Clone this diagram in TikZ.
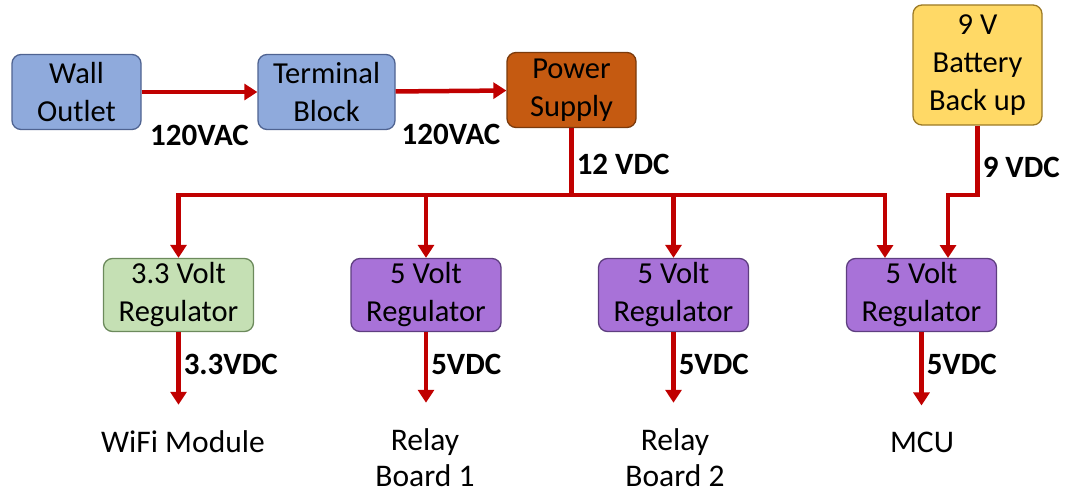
\documentclass[tikz,border=0pt]{standalone}
\usepackage{fontspec}
\setmainfont{Carlito}
\usetikzlibrary{arrows.meta}

\definecolor{boxblue}{HTML}{8FAADC}
\definecolor{edgeblue}{HTML}{4F6391}
\definecolor{supplyorange}{HTML}{C55A11}
\definecolor{edgeorange}{HTML}{7A3A0C}
\definecolor{battyellow}{HTML}{FFD966}
\definecolor{edgeyellow}{HTML}{9C7A26}
\definecolor{reggreen}{HTML}{C5E0B4}
\definecolor{edgegreen}{HTML}{6C8A5C}
\definecolor{regpurple}{HTML}{A872D8}
\definecolor{edgepurple}{HTML}{5E3E80}
\definecolor{wirered}{HTML}{C00000}

\tikzset{
    block/.style={draw, line width=1.3pt, rounded corners=9pt, align=center,
        minimum width=129pt, minimum height=75pt, inner sep=0pt,
        font=\fontsize{30.5}{38}\selectfont},
    regbox/.style={block, minimum width=150pt, minimum height=73pt},
    target/.style={align=center, inner sep=0pt, font=\fontsize{31.5}{36}\selectfont},
    volts/.style={font=\fontsize{31}{36}\selectfont\bfseries, inner sep=3pt},
    wire/.style={draw=wirered, line width=4.5pt},
    feed/.style={wire, -{Triangle[width=16pt,length=13pt]}}
}

\begin{document}
\begin{tikzpicture}[x={(1pt,0pt)}, y={(0pt,-1pt)}]
    \useasboundingbox (0,0) rectangle (1070,495);

    % Mains side
    \node[block, fill=boxblue, draw=edgeblue] (wall) at (76.5,92) {Wall\\Outlet};
    \node[block, fill=boxblue, draw=edgeblue, minimum width=137pt] (term) at (326.5,92) {Terminal\\Block};
    \node[block, fill=supplyorange, draw=edgeorange] (psu) at (571.5,90) {Power\\Supply};

    % Backup battery
    \node[block, fill=battyellow, draw=edgeyellow, minimum height=120pt] (batt) at (977.5,65) {9 V\\Battery\\Back up};

    % Regulators
    \node[regbox, fill=reggreen, draw=edgegreen] (reg3) at (178.5,295) {3.3 Volt\\Regulator};
    \node[regbox, fill=regpurple, draw=edgepurple] (reg5a) at (426,295) {5 Volt\\Regulator};
    \node[regbox, fill=regpurple, draw=edgepurple] (reg5b) at (673.5,295) {5 Volt\\Regulator};
    \node[regbox, fill=regpurple, draw=edgepurple] (reg5c) at (921.5,295) {5 Volt\\Regulator};

    % Loads
    \node[target] (wifi) at (183,442) {WiFi Module};
    \node[target] (relay1) at (425,458) {Relay\\Board 1};
    \node[target] (relay2) at (675,458) {Relay\\Board 2};
    \node[target] (mcu) at (922,442) {MCU};

    % 12 V bus
    \coordinate (bus) at (571.5,195);
    \coordinate (mcuin) at (885,258);
    \coordinate (battin) at (948,258);

    % AC path
    \draw[feed] (wall) -- node[volts, yshift=-43pt] {120VAC} (term);
    \draw[feed] (term) -- node[volts, yshift=-43pt] {120VAC} (psu);

    % DC distribution
    \draw[wire] (psu.south) -- node[volts, right, pos=0.55] {12 VDC} (bus);
    \draw[feed] (bus) -| (reg3.north);
    \draw[feed] (bus) -| (mcuin);
    \draw[feed] (reg5a.north |- bus) -- (reg5a.north);
    \draw[feed] (reg5b.north |- bus) -- (reg5b.north);
    \draw[feed] (batt.south) -- node[volts, right, pos=0.6] {9 VDC} (batt.south |- bus) -| (battin);

    % Regulated outputs
    \draw[feed, shorten >=26pt] (reg3.south) -- node[volts, right, pos=0.33] {3.3VDC} (reg3.south |- wifi.north);
    \draw[feed, shorten >=26pt] (reg5a.south) -- node[volts, right, pos=0.33] {5VDC} (reg5a.south |- relay1.north);
    \draw[feed, shorten >=26pt] (reg5b.south) -- node[volts, right, pos=0.33] {5VDC} (reg5b.south |- relay2.north);
    \draw[feed, shorten >=26pt] (reg5c.south) -- node[volts, right, pos=0.33] {5VDC} (reg5c.south |- mcu.north);

\end{tikzpicture}
\end{document}
